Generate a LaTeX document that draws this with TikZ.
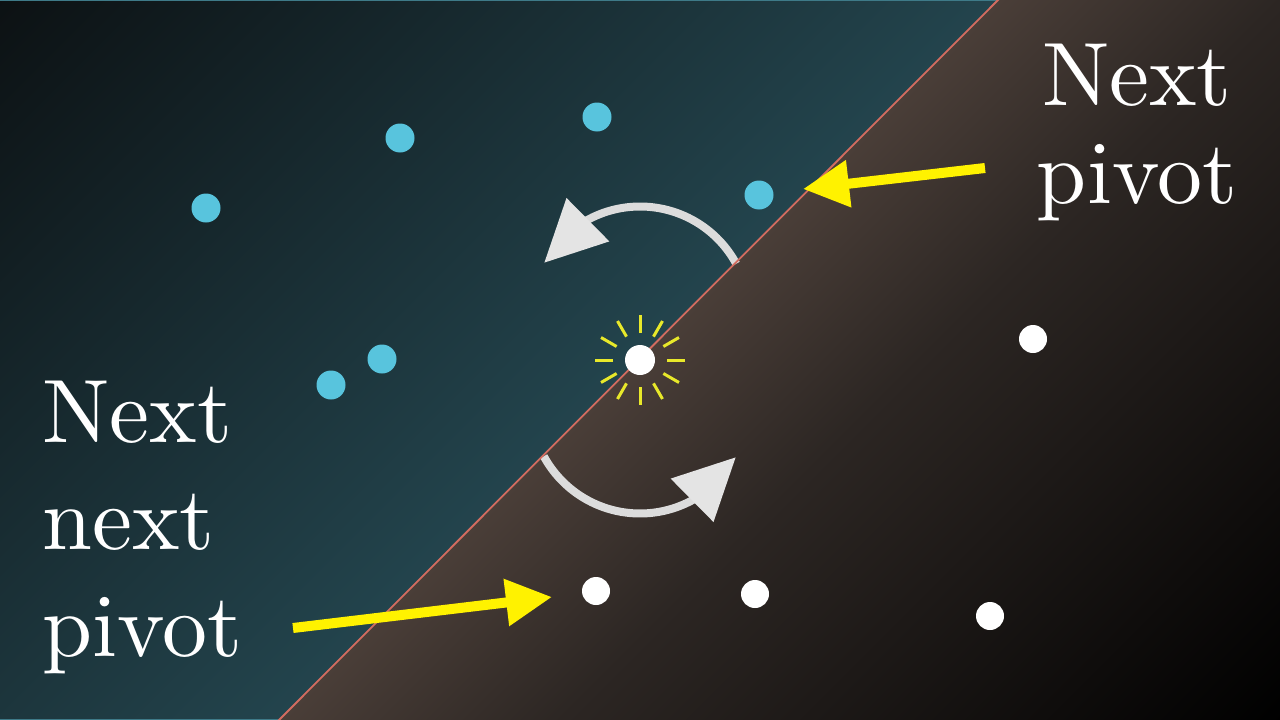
\documentclass[tikz,border=0pt]{standalone}
\usepackage{fontspec}
\newfontfamily\lmten{lmroman10-regular}[Extension=.otf]
\usetikzlibrary{arrows.meta,calc}
\definecolor{tealA}{HTML}{0C1113}
\definecolor{tealB}{HTML}{23444D}
\definecolor{brownA}{HTML}{4A3E38}
\definecolor{brownM}{HTML}{2C2623}
\definecolor{brownB}{HTML}{000000}
\definecolor{edgeteal}{HTML}{3E7A88}
\definecolor{sepred}{HTML}{D26C60}
\definecolor{dotblue}{HTML}{58C4DD}
\definecolor{sparkcol}{HTML}{E8E82A}
\definecolor{shaftgray}{HTML}{DCDCDC}
\definecolor{headgray}{HTML}{E4E4E4}
\pgfdeclarehorizontalshading{tealsh}{1500bp}{color(0bp)=(tealA); color(43bp)=(tealA); color(749bp)=(tealB); color(1500bp)=(tealB)}
\pgfdeclarehorizontalshading{brownsh}{1500bp}{color(0bp)=(brownA); color(749bp)=(brownA); color(948bp)=(brownM); color(1457bp)=(brownB); color(1500bp)=(brownB)}
\tikzset{
  bdot/.style={circle, fill=dotblue, minimum size=29pt, inner sep=0pt},
  wdot/.style={circle, fill=white, minimum size=28pt, inner sep=0pt},
  pdot/.style={circle, fill=white, minimum size=30pt, inner sep=0pt},
  sparkline/.style={draw=sparkcol, line width=3pt},
  yarrow/.style={draw=yellow, line width=10pt, -{Triangle[length=46pt,width=45pt]}},
  shaft/.style={draw=shaftgray, line width=8pt},
  headfill/.style={fill=headgray},
  txt/.style={text=white, inner sep=0pt},
}
\begin{document}
\begin{tikzpicture}[x=1pt,y=-1pt]
\useasboundingbox (0,0) rectangle (1280,720);
\clip (0,0) rectangle (1280,720);
\coordinate (L1) at (279,720);
\coordinate (L2) at (998,0);
% backgrounds
\begin{scope}
  \clip (0,0) -- (L2) -- (L1) -- (0,720) -- cycle;
  \node[inner sep=0pt, rotate=-45] (bgteal) at (640,360) {\pgfuseshading{tealsh}};
  \draw[edgeteal, line width=2pt] (L2) -- (0,0);
  \draw[edgeteal, line width=2pt] (0,720) -- (L1);
\end{scope}
\begin{scope}
  \clip (L2) -- (1280,0) -- (1280,720) -- (L1) -- cycle;
  \node[inner sep=0pt, rotate=-45] (bgbrown) at (640,360) {\pgfuseshading{brownsh}};
\end{scope}
% curved arrows
\coordinate (C1) at (640,316);
\coordinate (C2) at (640,404);
\draw[shaft] ($(C1)+(-28.5:109.5)$) arc[start angle=-28.5, end angle=-122, radius=109.5];
\coordinate (h1t) at ($(C1)+(-150.8:109.5)$);
\coordinate (h1b) at ($(C1)+(-118.4:109.5)$);
\fill[headfill] (h1t) -- ($(h1b)!30.5pt!90:(h1t)$) -- ($(h1b)!30.5pt!-90:(h1t)$) -- cycle;
\draw[shaft] ($(C2)+(151.5:109.5)$) arc[start angle=151.5, end angle=58, radius=109.5];
\coordinate (h2t) at ($(C2)+(29.2:109.5)$);
\coordinate (h2b) at ($(C2)+(61.6:109.5)$);
\fill[headfill] (h2t) -- ($(h2b)!30.5pt!90:(h2t)$) -- ($(h2b)!30.5pt!-90:(h2t)$) -- cycle;
% separating line
\draw[sepred, line width=1.8pt] ($(L1)!-0.02!(L2)$) -- ($(L2)!-0.02!(L1)$);
% blue points
\node[bdot] (b1) at (206,208) {};
\node[bdot] (b2) at (400,138) {};
\node[bdot] (b3) at (597,117) {};
\node[bdot] (b4) at (759,195) {};
\node[bdot] (b5) at (382,359) {};
\node[bdot] (b6) at (331,385) {};
% white points
\node[wdot] (w1) at (1033,339) {};
\node[wdot] (w2) at (596,591) {};
\node[wdot] (w3) at (755,594) {};
\node[wdot] (w4) at (990,616) {};
% pivot with sparkle
\coordinate (pc) at (640,360);
\foreach \a in {0,30,...,330} \draw[sparkline] ($(pc)+(\a:27)$) -- ($(pc)+(\a:45)$);
\node[pdot] (pivot) at (pc) {};
% yellow arrows
\coordinate (y1s) at (985,168);
\coordinate (y1e) at (803,189);
\draw[yarrow] (y1s) -- (y1e);
\coordinate (y2s) at (293,628);
\coordinate (y2e) at (552,597);
\draw[yarrow] (y2s) -- (y2e);
% labels
\node[txt, anchor=north, align=center, font=\lmten\fontsize{90}{98}\selectfont] (t1) at (1137,43.5) {Next\\pivot};
\node[txt, anchor=north west, align=left, font=\lmten\fontsize{90}{107}\selectfont] (t2) at (42,380.5) {Next\\next\\pivot};
\end{tikzpicture}
\end{document}
